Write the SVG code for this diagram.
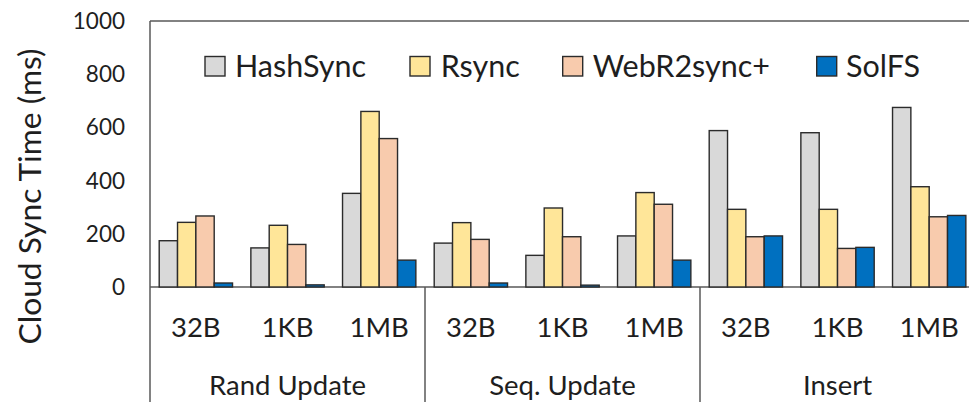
<svg xmlns="http://www.w3.org/2000/svg" width="969" height="402" viewBox="0 0 969 402">
<style>
text{font-family:Lato,"Liberation Sans",sans-serif;fill:#1e1e1e}
.tick{font-size:22.5px;text-anchor:end}
.leg{font-size:30.5px}
.cat{font-size:27.5px;text-anchor:middle}
.axis{stroke:#595959;stroke-width:1.5;fill:none}
.bar{stroke:#2b2b2b;stroke-width:1.4}
.h{fill:#d9d9d9}.r{fill:#ffe699}.w{fill:#f8cbad}.s{fill:#0070c0}
</style>
<rect width="969" height="402" fill="#fff"/>
<g id="axes">
<path class="axis" d="M150 21H969M150 21V402M150 287H969M425 287V402M700 287V402"/>
</g>
<g id="yticks">
<text class="tick" x="125" y="29">1000</text>
<text class="tick" x="125" y="82.2">800</text>
<text class="tick" x="125" y="135.4">600</text>
<text class="tick" x="125" y="188.6">400</text>
<text class="tick" x="125" y="241.8">200</text>
<text class="tick" x="125" y="295">0</text>
</g>
<text id="ytitle" transform="translate(41,196.5) rotate(-90)" text-anchor="middle" font-size="30" textLength="296" lengthAdjust="spacingAndGlyphs">Cloud Sync Time (ms)</text>
<g id="legend">
<rect class="bar h" x="205" y="56.5" width="20" height="19.5"/><text class="leg" x="235" y="76.7">HashSync</text>
<rect class="bar r" x="410" y="56.5" width="20" height="19.5"/><text class="leg" x="440.7" y="76.7">Rsync</text>
<rect class="bar w" x="562.7" y="56.5" width="20" height="19.5"/><text class="leg" x="592.7" y="76.7">WebR2sync+</text>
<rect class="bar s" x="816.7" y="56.5" width="20" height="19.5"/><text class="leg" x="846" y="76.7">SolFS</text>
</g>
<g id="bars">
<rect class="bar h" x="159.2" y="240.72" width="18.33" height="46.28"/>
<rect class="bar r" x="177.53" y="222.36" width="18.33" height="64.64"/>
<rect class="bar w" x="195.87" y="215.98" width="18.33" height="71.02"/>
<rect class="bar s" x="214.2" y="283.01" width="18.33" height="3.99"/>
<rect class="bar h" x="250.87" y="247.9" width="18.33" height="39.1"/>
<rect class="bar r" x="269.2" y="225.29" width="18.33" height="61.71"/>
<rect class="bar w" x="287.53" y="244.44" width="18.33" height="42.56"/>
<rect class="bar s" x="305.87" y="284.87" width="18.33" height="2.13"/>
<rect class="bar h" x="342.53" y="193.37" width="18.33" height="93.63"/>
<rect class="bar r" x="360.87" y="111.44" width="18.33" height="175.56"/>
<rect class="bar w" x="379.2" y="138.57" width="18.33" height="148.43"/>
<rect class="bar s" x="397.53" y="260.13" width="18.33" height="26.87"/>
<rect class="bar h" x="434.2" y="243.11" width="18.33" height="43.89"/>
<rect class="bar r" x="452.53" y="222.63" width="18.33" height="64.37"/>
<rect class="bar w" x="470.87" y="239.39" width="18.33" height="47.61"/>
<rect class="bar s" x="489.2" y="283.01" width="18.33" height="3.99"/>
<rect class="bar h" x="525.87" y="255.35" width="18.33" height="31.65"/>
<rect class="bar r" x="544.2" y="208" width="18.33" height="79"/>
<rect class="bar w" x="562.53" y="236.73" width="18.33" height="50.27"/>
<rect class="bar s" x="580.87" y="285.14" width="18.33" height="1.86"/>
<rect class="bar h" x="617.53" y="235.93" width="18.33" height="51.07"/>
<rect class="bar r" x="635.87" y="192.57" width="18.33" height="94.43"/>
<rect class="bar w" x="654.2" y="204.27" width="18.33" height="82.73"/>
<rect class="bar s" x="672.53" y="260.13" width="18.33" height="26.87"/>
<rect class="bar h" x="709.2" y="130.59" width="18.33" height="156.41"/>
<rect class="bar r" x="727.53" y="209.33" width="18.33" height="77.67"/>
<rect class="bar w" x="745.87" y="236.73" width="18.33" height="50.27"/>
<rect class="bar s" x="764.2" y="235.93" width="18.33" height="51.07"/>
<rect class="bar h" x="800.87" y="132.72" width="18.33" height="154.28"/>
<rect class="bar r" x="819.2" y="209.33" width="18.33" height="77.67"/>
<rect class="bar w" x="837.53" y="248.43" width="18.33" height="38.57"/>
<rect class="bar s" x="855.87" y="247.37" width="18.33" height="39.63"/>
<rect class="bar h" x="892.53" y="107.45" width="18.33" height="179.55"/>
<rect class="bar r" x="910.87" y="186.72" width="18.33" height="100.28"/>
<rect class="bar w" x="929.2" y="216.78" width="18.33" height="70.22"/>
<rect class="bar s" x="947.53" y="215.45" width="18.33" height="71.55"/>
</g>
<g id="categories">
<text class="cat" x="195.8" y="336.7">32B</text>
<text class="cat" x="287.5" y="336.7">1KB</text>
<text class="cat" x="379.2" y="336.7">1MB</text>
<text class="cat" x="470.8" y="336.7">32B</text>
<text class="cat" x="562.5" y="336.7">1KB</text>
<text class="cat" x="654.2" y="336.7">1MB</text>
<text class="cat" x="745.8" y="336.7">32B</text>
<text class="cat" x="837.5" y="336.7">1KB</text>
<text class="cat" x="929.2" y="336.7">1MB</text>
</g>
<g id="groups">
<text class="cat" x="287.5" y="395">Rand Update</text>
<text class="cat" x="562.5" y="395">Seq. Update</text>
<text class="cat" x="837.5" y="395">Insert</text>
</g>
</svg>
